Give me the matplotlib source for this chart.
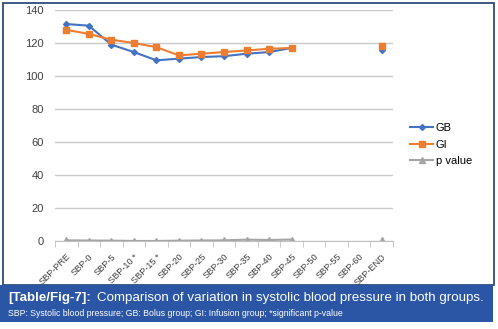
import matplotlib
matplotlib.use("Agg")
import matplotlib.pyplot as plt
import matplotlib.patches as patches
import numpy as np

plt.rcParams['font.family'] = ['Liberation Sans', 'DejaVu Sans']

categories = ['SBP-PRE', 'SBP-0', 'SBP-5', 'SBP-10 *', 'SBP-15 *', 'SBP-20', 'SBP-25',
              'SBP-30', 'SBP-35', 'SBP-40', 'SBP-45', 'SBP-50', 'SBP-55', 'SBP-60', 'SBP-END']
gb = [131.5, 130.5, 119, 114.5, 109.5, 110.5, 111.5, 112, 113.5, 114.5, 117,
      np.nan, np.nan, np.nan, 116]
gi = [128, 125.5, 122, 120, 117.5, 112.5, 113.5, 114.5, 115.5, 116.5, 117,
      np.nan, np.nan, np.nan, 118]
pval = [0.4, 0.3, 0.2, 0.03, 0.01, 0.2, 0.3, 0.4, 0.8, 0.6, 0.9,
        np.nan, np.nan, np.nan, 0.4]

W, H = 498, 329
fig = plt.figure(figsize=(W / 100, H / 100), dpi=100)


def box(x0, y0, x1, y1):
    # pixel box (top-left origin) -> figure fraction
    return [x0 / W, 1 - y1 / H, (x1 - x0) / W, (y1 - y0) / H]


# outer frame
r = box(2.5, 2.5, 494, 285)
fig.patches.append(patches.Rectangle((r[0], r[1]), r[2], r[3], transform=fig.transFigure,
                                     facecolor='white', edgecolor='#2f4b7c', lw=1.3, zorder=-2))
# caption bar
r = box(0, 285, 493, 322)
fig.patches.append(patches.Rectangle((r[0], r[1]), r[2], r[3], transform=fig.transFigure,
                                     facecolor='#2b55a5', edgecolor='none', zorder=-1))

ax = fig.add_axes(box(55, 10, 393, 241))
ax.set_facecolor('none')
x = np.arange(len(categories))
ax.plot(x, gb, color='#4472C4', marker='D', markersize=3, lw=1.5, label='GB')
ax.plot(x, gi, color='#ED7D31', marker='s', markersize=5, lw=1.5, label='GI')
ax.plot(x, pval, color='#A5A5A5', marker='^', markersize=4, lw=1.5, label='p value')

ax.set_xlim(-0.5, len(categories) - 0.5)
ax.set_ylim(0, 140)
ax.set_yticks(range(0, 141, 20))
ax.yaxis.grid(True, color='#c8c8c8', lw=1)
ax.set_axisbelow(True)
for s in ['top', 'right', 'left']:
    ax.spines[s].set_visible(False)
ax.spines['bottom'].set_color('#c0c0c0')
ax.tick_params(axis='y', length=0, labelsize=8, colors='#404040', pad=8)
ax.set_xticks(np.arange(-0.5, len(categories), 1), minor=True)
ax.set_xticks(x)
ax.set_xticklabels(categories, rotation=45, ha='right', rotation_mode='anchor',
                   fontsize=6.6, color='#404040')
ax.tick_params(axis='x', which='major', length=0, pad=8)
ax.tick_params(axis='x', which='minor', length=4, color='#c0c0c0')

fig.legend(loc='upper left', bbox_to_anchor=(400 / W, 1 - 113 / H), frameon=False,
           fontsize=8, handlelength=2.1, labelspacing=0.6, handletextpad=0.2)

fig.text(8 / W, 1 - 298 / H, '[Table/Fig-7]:', color='white', fontsize=9.6,
         fontweight='bold', va='center')
fig.text(97 / W, 1 - 298 / H, 'Comparison of variation in systolic blood pressure in both groups.',
         color='white', fontsize=9.6, va='center')
fig.text(8 / W, 1 - 314 / H,
         'SBP: Systolic blood pressure; GB: Bolus group; GI: Infusion group; *significant p-value',
         color='white', fontsize=6.3, va='center')

fig.savefig('out.png', dpi=100)
